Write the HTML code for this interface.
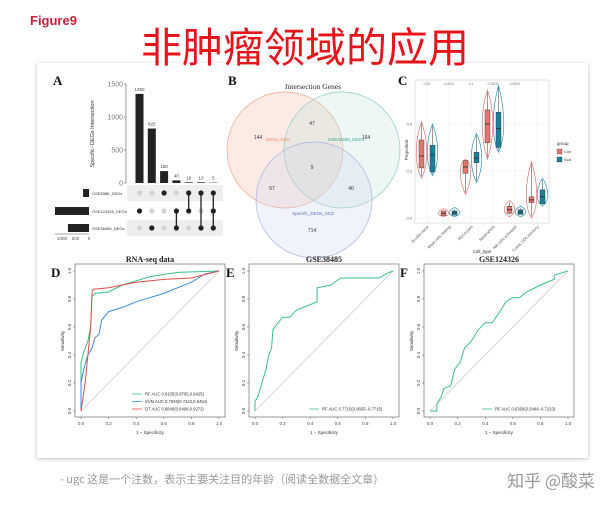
<!DOCTYPE html>
<html><head><meta charset="utf-8">
<style>
html,body{margin:0;padding:0;background:#fff;}
svg{display:block;font-family:"Liberation Sans","Noto Sans CJK SC",sans-serif;}
</style></head>
<body>
<svg id="fig" width="611" height="509" viewBox="0 0 611 509">
<defs>
<filter id="sh" x="-5%" y="-5%" width="110%" height="110%"><feDropShadow dx="0" dy="1" stdDeviation="2" flood-color="#000" flood-opacity="0.25"/></filter>
</defs>
<text x="30" y="25" font-size="13" font-weight="bold" fill="#c8203c">Figure9</text>
<rect x="37" y="63" width="551" height="395" fill="#fff" filter="url(#sh)"/>
<text x="305" y="62" font-size="41" fill="#e8141c" text-anchor="middle" font-family="'Noto Sans CJK SC',sans-serif">非肿瘤领域的应用</text>
<g font-family="'Liberation Serif',serif" font-weight="bold" font-size="13" fill="#111">
<text x="53" y="85">A</text>
<text x="228" y="85">B</text>
<text x="398" y="85">C</text>
<text x="51" y="277">D</text>
<text x="226" y="277">E</text>
<text x="400" y="277">F</text>
</g>
<g id="upset"></g>
<g id="venn"></g>
<g id="violin"></g>
<g id="rocD"></g>
<g id="rocE"></g>
<g id="rocF"></g>
<text x="60" y="483" font-size="11" fill="#999" font-family="'Noto Sans CJK SC',sans-serif">- ugc 这是一个注数，表示主要关注目的年龄（阅读全数据全文章）</text>
<text x="595" y="487" font-size="17" fill="#999" text-anchor="end" font-family="'Noto Sans CJK SC',sans-serif">知乎 @酸菜</text>
</svg>
<script>
// ---------- data ----------
const upsetCounts = [1350, 825, 180, 40, 10, 10, 5];
const upsetCombos = [[2],[3],[1],[2,3],[1,2],[1,3],[1,2,3]];
const setNames = ["GSE8386_DEGs","GSE124326_DEGs","GSE38485_DEGs"];
const setSizes = [220, 1260, 780];
const upsetTicks = [0, 500, 1000, 1500];
const vennLabels = ["DEGs_RNA","GSE38485_DEGs","Specific_DEGs_SCZ"];
const vennCounts = ["144","164","47","9","57","40","714"];
const cellTypes = ["B.cells.naive","Mast.cells.resting","Monocytes","Neutrophils","NK.cells.activated","T.cells.CD4.memory"];
const pvals = ["0.83","0.0001","0.1","0.0002","0.0001"];
const conMed = [0.264,0.02,0.217,0.40,0.035,0.077];
const conQ1 = [0.213,0.01,0.19,0.32,0.02,0.065];
const conQ3 = [0.332,0.03,0.245,0.46,0.05,0.09];
const conMin = [0.17,0.005,0.10,0.25,0.005,0.0];
const conMax = [0.41,0.04,0.25,0.545,0.075,0.24];
const scaMed = [0.268,0.022,0.255,0.38,0.025,0.09];
const scaQ1 = [0.196,0.012,0.235,0.30,0.015,0.06];
const scaQ3 = [0.31,0.03,0.28,0.45,0.035,0.12];
const scaMin = [0.18,0.005,0.15,0.28,0.005,0.05];
const scaMax = [0.40,0.045,0.36,0.565,0.05,0.17];
const violinTicks = [0.0, 0.2, 0.4];
const rfFprD = [0,0,0.02,0.05,0.07,0.08,0.1,0.2,0.3,0.4,0.5,0.7,1];
const rfTprD = [0,0.35,0.42,0.5,0.6,0.82,0.84,0.85,0.9,0.93,0.96,0.99,1];
const svmFprD = [0,0,0.02,0.05,0.08,0.1,0.13,0.15,0.2,0.3,0.4,0.6,0.8,0.9,1];
const svmTprD = [0,0.2,0.3,0.4,0.45,0.52,0.55,0.65,0.71,0.74,0.78,0.84,0.92,0.98,1];
const dtFprD = [0,0.03,0.05,0.07,0.08,0.09,0.2,0.4,0.6,0.8,1];
const dtTprD = [0,0.2,0.4,0.6,0.85,0.87,0.88,0.92,0.94,0.95,1];
const rfFprE = [0,0,0.02,0.05,0.08,0.1,0.12,0.13,0.16,0.2,0.25,0.3,0.4,0.45,0.45,0.55,0.62,0.9,0.95,1];
const rfTprE = [0,0.07,0.1,0.2,0.3,0.4,0.45,0.58,0.62,0.67,0.67,0.72,0.76,0.78,0.88,0.9,0.95,0.95,0.98,1];
const rfFprF = [0,0.05,0.05,0.08,0.1,0.15,0.18,0.22,0.25,0.3,0.35,0.4,0.45,0.5,0.55,0.6,0.65,0.7,0.8,0.9,0.9,1];
const rfTprF = [0,0,0.05,0.1,0.16,0.18,0.3,0.35,0.45,0.5,0.58,0.63,0.63,0.7,0.78,0.81,0.81,0.85,0.9,0.94,0.97,1];
const rocTicks = [0,0.2,0.4,0.6,0.8,1.0];

const NS="http://www.w3.org/2000/svg";
function mk(parent, tag, attrs, text){const e=document.createElementNS(NS,tag);for(const k in attrs)e.setAttribute(k,attrs[k]);if(text!==undefined)e.textContent=text;parent.appendChild(e);return e;}

// ---------- UpSet ----------
(function(){
  const g=document.getElementById('upset');
  const y0=183,y1=84,maxV=1500,ax=126;
  const ys=v=>y0-(v/maxV)*(y0-y1);
  const colX=i=>139.5+i*12.3;
  const rowY=[193,211,228];
  const l=mk(g,'line',{x1:ax,y1:y1,x2:ax,y2:y0,stroke:'#555','stroke-width':0.6});
  
  
  upsetTicks.forEach(t=>{
    mk(g,'line',{x1:ax-2,x2:ax,y1:ys(t),y2:ys(t),stroke:'#555','stroke-width':0.6});
    const tx=mk(g,'text',{x:ax-3,y:ys(t)+2.5,'font-size':7,fill:'#777','text-anchor':'end'},String(t));
    
    
  });
  const at=mk(g,'text',{x:0,y:0,'font-size':5.5,fill:'#333','text-anchor':'middle',transform:'translate(94,134) rotate(-90)'},'Specific−DEGs Intersection');
  
  
  rowY.forEach((y,r)=>{
    if(r!==1){const s=mk(g,'rect',{x:127,y:y-8,width:96,height:16,fill:'#eeeeee'});
    
    }
  });
  upsetCounts.forEach((v,i)=>{
    const b=mk(g,'rect',{x:colX(i)-4,y:ys(v),width:8,height:y0-ys(v),fill:'#222'});
    
    
    const t=mk(g,'text',{x:colX(i),y:ys(v)-3,'font-size':4.5,fill:'#444','text-anchor':'middle'},String(v));
    
    
    const combo=upsetCombos[i];
    rowY.forEach((y,r)=>{
      const on=combo.includes(r+1);
      const d=mk(g,'circle',{cx:colX(i),cy:y,r:2.6,fill:on?'#222':'#d4d4d4'});
      
      
    });
    if(combo.length>1){
      const ln=mk(g,'line',{x1:colX(i),x2:colX(i),y1:rowY[combo[0]-1],y2:rowY[combo[combo.length-1]-1],stroke:'#222','stroke-width':1.3});
      
      
    }
  });
  const sx=v=>89-v/1000*27;
  setSizes.forEach((v,r)=>{
    const b=mk(g,'rect',{x:sx(v),y:rowY[r]-4,width:89-sx(v),height:8,fill:'#222'});
    
    
    const t=mk(g,'text',{x:92,y:rowY[r]+2,'font-size':4,fill:'#333'},setNames[r]);
    
    
  });
  mk(g,'line',{x1:55,x2:89,y1:234,y2:234,stroke:'#555','stroke-width':0.5});
  [1000,500,0].forEach(t=>{
    const tx=mk(g,'text',{x:sx(t),y:240,'font-size':4.5,fill:'#555','text-anchor':'middle'},String(t));
    
    
  });
})();

// ---------- Venn ----------
(function(){
  const g=document.getElementById('venn');
  const t=mk(g,'text',{x:313,y:89,'font-size':7.5,fill:'#222','text-anchor':'middle','font-family':"'Liberation Serif',serif"},'Intersection Genes');
  
  
  const circles=[[285,150,'#f6b8a0','#f2a58a'],[342,150,'#bfe3dc','#8fcdbf'],[314,200,'#cdd5ee','#a7b4df']];
  circles.forEach((c,i)=>{
    const e=mk(g,'circle',{cx:c[0],cy:c[1],r:58,fill:c[2],'fill-opacity':0.28,stroke:c[3],'stroke-width':0.7});
    
    
  });
  const labPos=[[278,141,'#f08a5d'],[346,141,'#3aa58b'],[313,215,'#5b6fc0']];
  vennLabels.forEach((s,i)=>{
    const e=mk(g,'text',{x:labPos[i][0],y:labPos[i][1],'font-size':4.5,fill:labPos[i][2],'text-anchor':'middle'},s);
    
    
  });
  const cpos=[[258,139],[366,139],[312,125],[312,169],[272,190],[351,190],[312,232]];
  vennCounts.forEach((s,i)=>{
    const e=mk(g,'text',{x:cpos[i][0],y:cpos[i][1],'font-size':5,fill:'#333','text-anchor':'middle'},s);
    
    
  });
})();

// ---------- Violin ----------
(function(){
  const g=document.getElementById('violin');
  const x0=415,x1=549,yTop=80,yBot=223;
  const ys=v=>218-v*235;
  const cx=i=>427+i*22;
  const fr=mk(g,'rect',{x:x0,y:yTop,width:x1-x0,height:yBot-yTop,fill:'#fff',stroke:'#ccc','stroke-width':0.6});
  
  
  violinTicks.forEach(t=>{
    mk(g,'line',{x1:x0,x2:x1,y1:ys(t),y2:ys(t),stroke:'#ececec','stroke-width':0.6});
    const tx=mk(g,'text',{x:x0-3,y:ys(t)+1.5,'font-size':4,fill:'#555','text-anchor':'end'},t.toFixed(1));
    
    
  });
  cellTypes.forEach((c,i)=>{
    mk(g,'line',{x1:cx(i),x2:cx(i),y1:yTop,y2:yBot,stroke:'#ececec','stroke-width':0.6});
    const tx=mk(g,'text',{x:0,y:0,'font-size':4,fill:'#555','text-anchor':'end',transform:`translate(${cx(i)+2},${yBot+4}) rotate(-45)`},c);
    
    
  });
  pvals.forEach((p,i)=>{
    const tx=mk(g,'text',{x:cx(i),y:85,'font-size':3.5,fill:'#777','text-anchor':'middle'},p);
    
    
  });
  function violin(x,med,q1,q3,mn,mx,col,fill){
    const top=ys(mx),bot=ys(mn),my=ys(med),w=7;
    const d=`M${x},${top} C${x+w},${my-(my-top)*0.4} ${x+w},${my+(bot-my)*0.4} ${x},${bot} C${x-w},${my+(bot-my)*0.4} ${x-w},${my-(my-top)*0.4} ${x},${top}Z`;
    const v=mk(g,'path',{d:d,fill:'none',stroke:col,'stroke-width':0.7});
    
    
    mk(g,'line',{x1:x,x2:x,y1:top+2,y2:bot-2,stroke:'#333','stroke-width':0.5});
    const b=mk(g,'rect',{x:x-2.5,y:ys(q3),width:5,height:Math.max(ys(q1)-ys(q3),2),fill:fill,stroke:'#333','stroke-width':0.4});
    
    
    mk(g,'line',{x1:x-2.5,x2:x+2.5,y1:my,y2:my,stroke:'#222','stroke-width':0.8});
  }
  cellTypes.forEach((c,i)=>{
    violin(cx(i)-5.5,conMed[i],conQ1[i],conQ3[i],conMin[i],conMax[i],'#e2776f','#e0786f');
    violin(cx(i)+5.5,scaMed[i],scaQ1[i],scaQ3[i],scaMin[i],scaMax[i],'#2b9ab5','#1f7f9a');
  });
  const tl=mk(g,'text',{x:0,y:0,'font-size':4.5,fill:'#333','text-anchor':'middle',transform:'translate(408,150) rotate(-90)'},'Proportion');
  
  
  const xl=mk(g,'text',{x:482,y:253,'font-size':4.5,fill:'#333','text-anchor':'middle'},'Cell_type');
  
  
  const lg=mk(g,'text',{x:557,y:145,'font-size':4.5,fill:'#333'},'group');
  
  
  [['Con','#e0786f',152],['Sca','#1f7f9a',160]].forEach(o=>{
    const r=mk(g,'rect',{x:557,y:o[2]-3,width:5,height:5,fill:o[1],stroke:'#333','stroke-width':0.3});
    
    
    const t=mk(g,'text',{x:564,y:o[2]+1,'font-size':4,fill:'#333'},o[0]);
    
    
  });
})();

// ---------- ROC ----------
function roc(id,x0,title,series,legendX){
  const g=document.getElementById(id);
  const x1=x0+138,yb=411,yt=271;
  const sx=v=>x0+v*(x1-x0), sy=v=>yb-v*(yb-yt);
  const fr=mk(g,'rect',{x:x0-6,y:yt-7,width:x1-x0+12,height:yb-yt+13,fill:'none',stroke:'#555','stroke-width':0.6});
  
  
  const tt=mk(g,'text',{x:(x0+x1)/2,y:262,'font-size':8,'font-weight':'bold',fill:'#222','text-anchor':'middle','font-family':"'Liberation Serif',serif"},title);
  
  
  rocTicks.forEach(t=>{
    mk(g,'line',{x1:sx(t),x2:sx(t),y1:yb+6,y2:yb+8,stroke:'#555','stroke-width':0.5});
    const a=mk(g,'text',{x:sx(t),y:yb+14,'font-size':4.5,fill:'#444','text-anchor':'middle'},t.toFixed(1));
    
    
    mk(g,'line',{x1:x0-8,x2:x0-6,y1:sy(t),y2:sy(t),stroke:'#555','stroke-width':0.5});
    const b=mk(g,'text',{x:0,y:0,'font-size':4.5,fill:'#444','text-anchor':'middle',transform:`translate(${x0-10},${sy(t)}) rotate(-90)`},t.toFixed(1));
    
    
  });
  const xt=mk(g,'text',{x:(x0+x1)/2,y:yb+23,'font-size':4.5,fill:'#333','text-anchor':'middle'},'1 − Specificity');
  
  
  const yt2=mk(g,'text',{x:0,y:0,'font-size':4.5,fill:'#333','text-anchor':'middle',transform:`translate(${x0-17},${(yb+yt)/2}) rotate(-90)`},'Sensitivity');
  
  
  const dg=mk(g,'line',{x1:sx(0),y1:sy(0),x2:sx(1),y2:sy(1),stroke:'#ccc','stroke-width':0.8});
  
  
  series.forEach((s,k)=>{
    const pts=s.fpr.map((f,i)=>sx(f)+','+sy(s.tpr[i])).join(' ');
    const p=mk(g,'polyline',{points:pts,fill:'none',stroke:s.color,'stroke-width':1});
    
    
  });
  const n=series.length;
  series.forEach((s,k)=>{
    const ly=yb-2-(n-1-k)*7.5;
    mk(g,'line',{x1:legendX,x2:legendX+10,y1:ly,y2:ly,stroke:s.color,'stroke-width':0.8});
    const t=mk(g,'text',{x:legendX+13,y:ly+1.5,'font-size':4.2,fill:'#333'},s.label);
    
    
  });
}
roc('rocD',81,'RNA-seq data',[
  {fpr:rfFprD,tpr:rfTprD,color:'#3bbf8a',label:'RF AUC 0.9105(0.8785,0.9425)'},
  {fpr:svmFprD,tpr:svmTprD,color:'#3a8fd8',label:'SVM AUC 0.7948(0.7442,0.8454)'},
  {fpr:dtFprD,tpr:dtTprD,color:'#e84a4a',label:'DT AUC 0.8840(0.8408,0.9272)'}],132);
roc('rocE',255,'GSE38485',[{fpr:rfFprE,tpr:rfTprE,color:'#3bbf8a',label:'RF AUC 0.7715(0.6655−0.7715)'}],309);
roc('rocF',430,'GSE124326',[{fpr:rfFprF,tpr:rfTprF,color:'#3bbf8a',label:'RF AUC 0.6356(0.5488−0.7223)'}],482);
</script>
</body></html>
